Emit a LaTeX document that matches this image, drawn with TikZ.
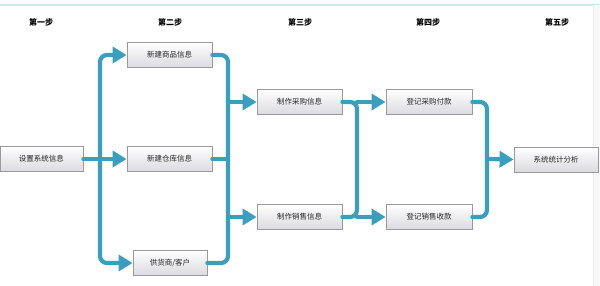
\documentclass[tikz,border=0pt]{standalone}
\usepackage{fontspec}
\setmainfont{Noto Sans CJK SC}
\usetikzlibrary{arrows.meta}
\definecolor{flowc}{HTML}{3A9EBE}
\definecolor{framec}{HTML}{CFE6EC}
\definecolor{boxline}{HTML}{9A9A9A}
\definecolor{boxbottom}{HTML}{DADAE0}
\tikzset{
  x=1pt, y=-1pt,
  stepbox/.style={draw=boxline, line width=0.8pt, top color=white, bottom color=boxbottom,
    minimum height=25pt, inner sep=0pt, font=\fontsize{7.5}{8}\selectfont, text=black!85},
  header/.style={font=\fontsize{8}{9}\selectfont\bfseries},
  flow/.style={draw=flowc, line width=4.2pt, rounded corners=7pt, line cap=round},
  flowarrow/.style={flow, -{Triangle[length=14pt,width=16pt]}}
}
\begin{document}
\begin{tikzpicture}
\useasboundingbox (0,0) rectangle (600,286);
\fill[white] (0,0) rectangle (600,286);
% frame
\draw[framec, line width=1.2pt] (0,5) -- (600,5);
\fill[black!3] (593,5) rectangle (600,286);
\draw[framec!70!black!20, line width=0.6pt] (593,5) -- (593,286);
% headers
\node[header] (h1) at (41,22) {第一步};
\node[header] (h2) at (170,22) {第二步};
\node[header] (h3) at (300,22) {第三步};
\node[header] (h4) at (428,22) {第四步};
\node[header] (h5) at (557,22) {第五步};
% boxes
\node[stepbox, minimum width=83pt] (s1) at (41.5,159) {设置系统信息};
\node[stepbox, minimum width=85pt] (a1) at (169.5,55) {新建商品信息};
\node[stepbox, minimum width=85pt] (a2) at (169.5,159) {新建仓库信息};
\node[stepbox, minimum width=74pt] (a3) at (170,263) {供货商/客户};
\node[stepbox, minimum width=85pt] (b1) at (299.5,102) {制作采购信息};
\node[stepbox, minimum width=85pt] (b2) at (299.5,217) {制作销售信息};
\node[stepbox, minimum width=86pt] (c1) at (429,102) {登记采购付款};
\node[stepbox, minimum width=86pt] (c2) at (429,217) {登记销售收款};
\node[stepbox, minimum width=84pt] (d) at (556,159.5) {系统统计分析};
% junctions
\coordinate (v1) at (100,159);
\coordinate (v2) at (228,159);
\coordinate (v3) at (357,159);
\coordinate (v4) at (487,159);
% group 1
\draw[flowarrow] (s1.east) -- (a2.west);
\draw[flowarrow] (v1) |- (a1.west);
\draw[flowarrow] (v1) |- (a3.west);
% group 2
\draw[flow] (a1.east) -| (v2) |- (a3.east);
\draw[flow] (a2.east) -- (v2);
\draw[flowarrow] (v2 |- b1) -- (b1.west);
\draw[flowarrow] (v2 |- b2) -- (b2.west);
% group 3
\draw[flow] (b1.east) -| (v3) |- (b2.east);
\draw[flowarrow] (v3 |- c1) -- (c1.west);
\draw[flowarrow] (v3 |- c2) -- (c2.west);
% group 4
\draw[flow] (c1.east) -| (v4) |- (c2.east);
\draw[flowarrow] (v4) -- (d.west);
\end{tikzpicture}
\end{document}
